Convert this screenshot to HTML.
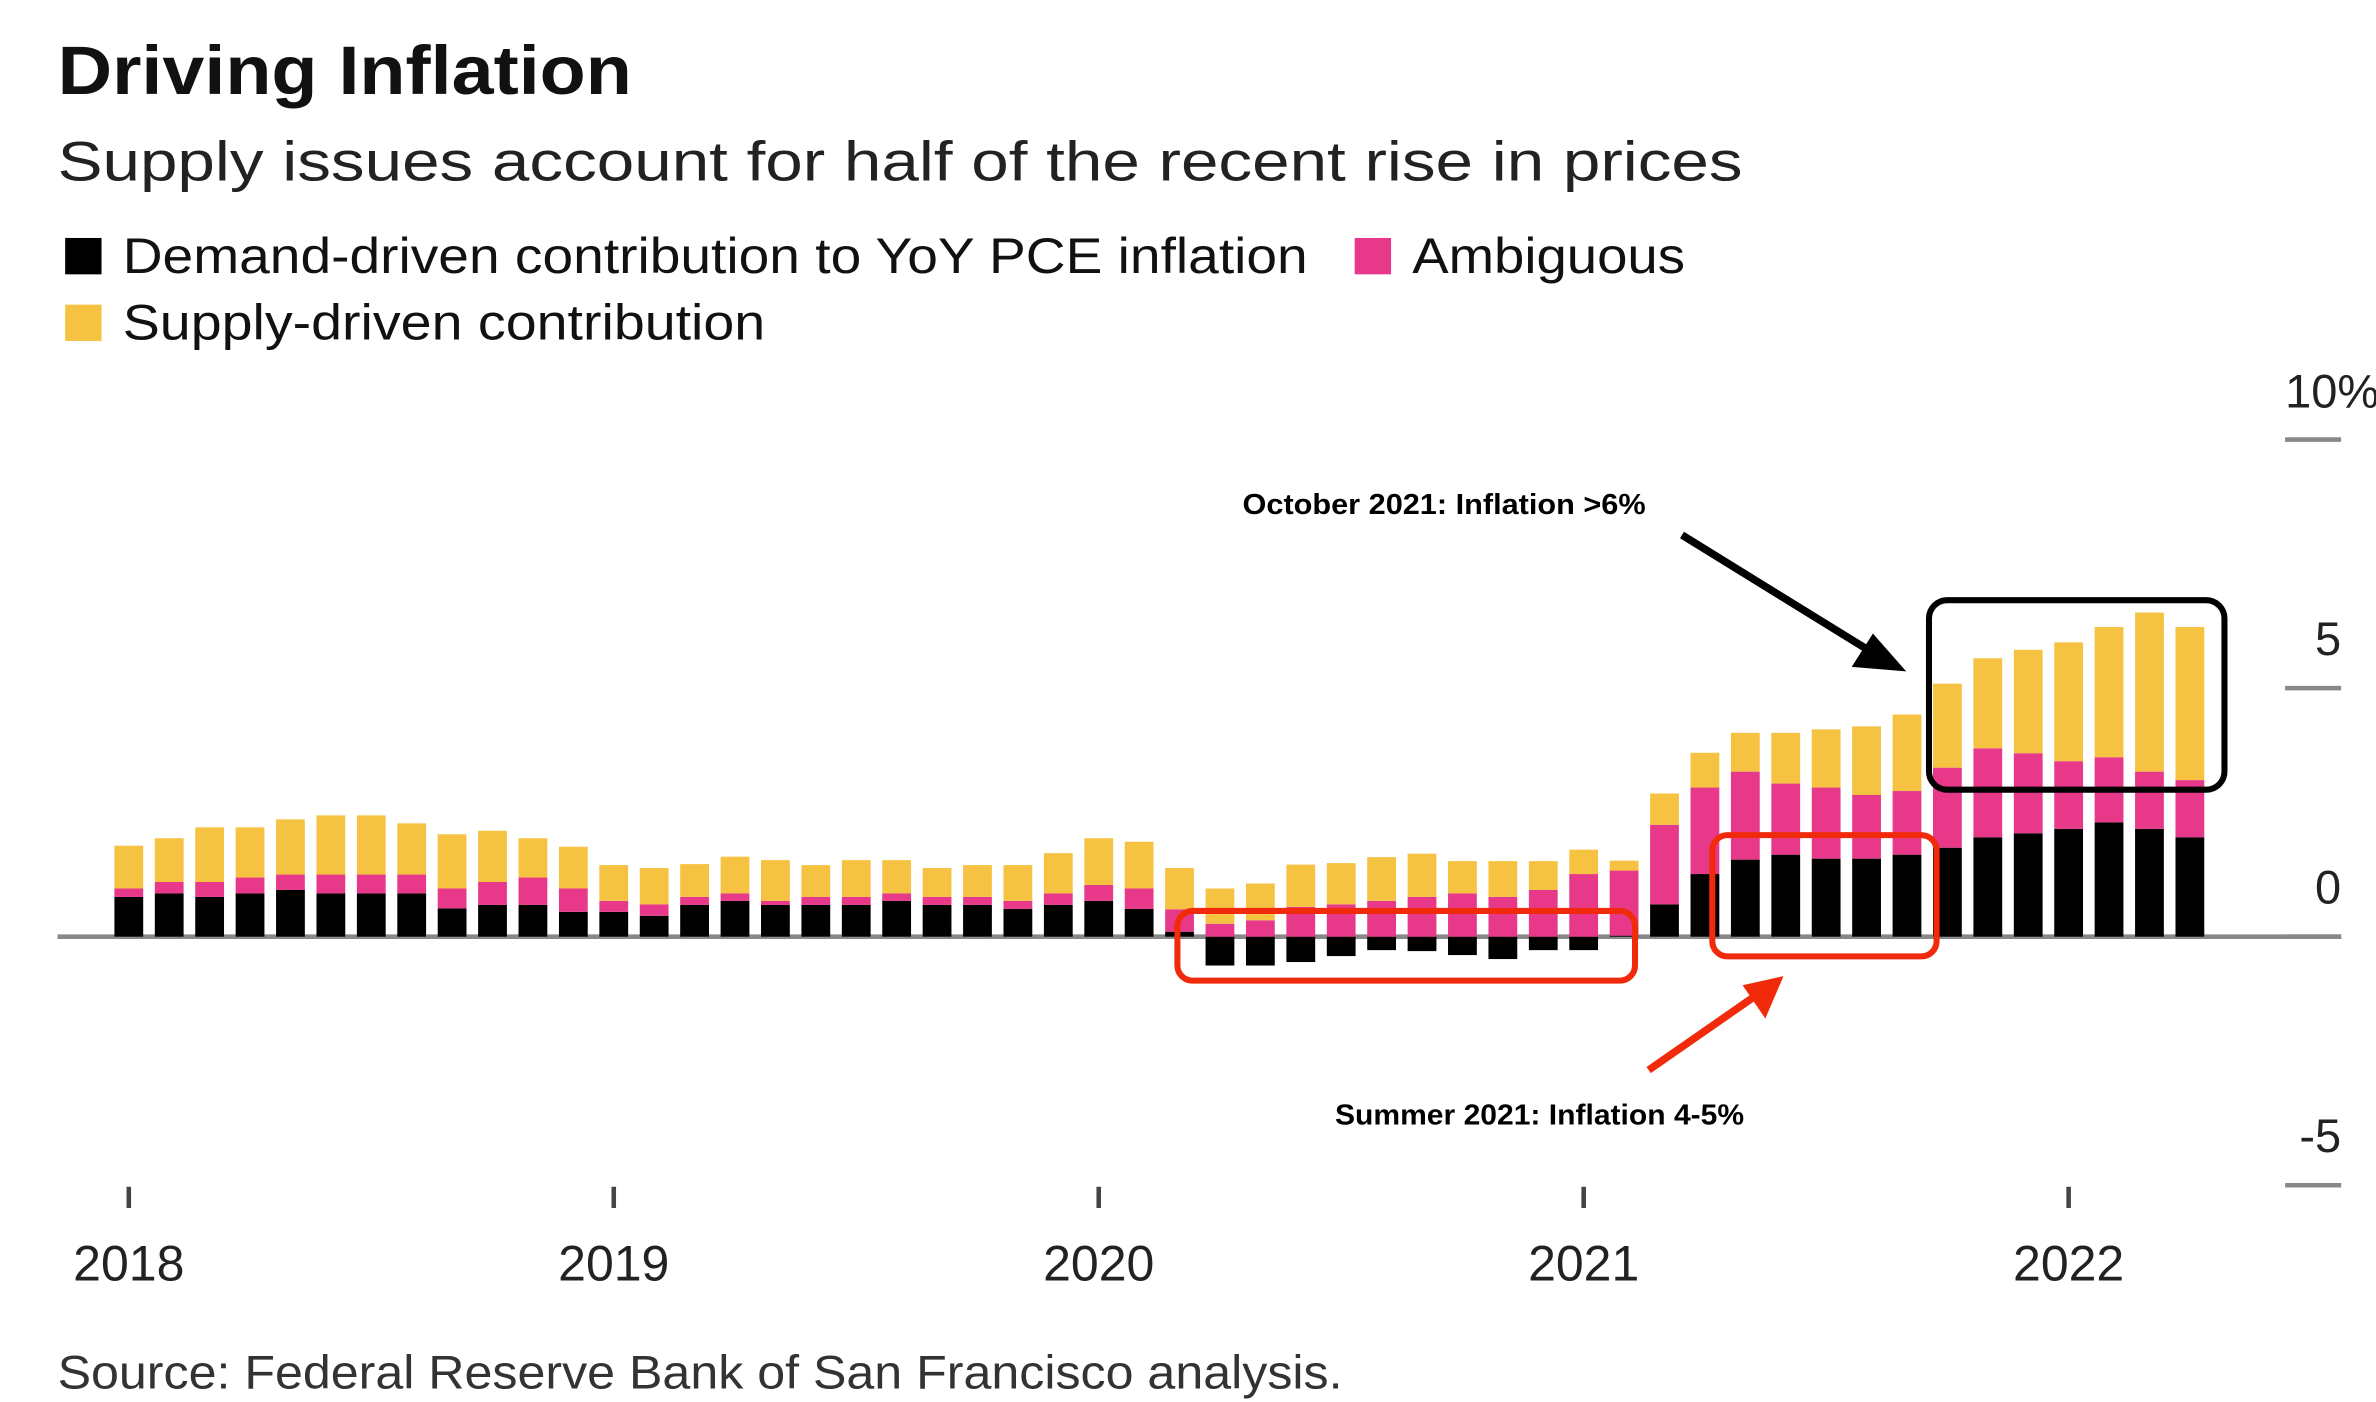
<!DOCTYPE html>
<html><head><meta charset="utf-8"><style>
html,body{margin:0;padding:0;background:#fff;}
svg{display:block;font-family:"Liberation Sans",sans-serif;}
</style></head><body>
<svg id="chart" width="2376" height="1402" viewBox="0 0 1568 925" preserveAspectRatio="none" xmlns="http://www.w3.org/2000/svg">
<rect width="1568" height="925" fill="#fff"/>
<text x="38" y="62" font-size="45" font-weight="bold" fill="#111" textLength="379" lengthAdjust="spacingAndGlyphs">Driving Inflation</text>
<text x="38" y="119" font-size="37" fill="#222" textLength="1112" lengthAdjust="spacingAndGlyphs">Supply issues account for half of the recent rise in prices</text>
<g>
 <rect x="43" y="157" width="24" height="24" fill="#000"/>
 <text x="81" y="180" font-size="33" fill="#111" textLength="782" lengthAdjust="spacingAndGlyphs">Demand-driven contribution to YoY PCE inflation</text>
 <rect x="894" y="157" width="24" height="24" fill="#e8388a"/>
 <text x="932" y="180" font-size="33" fill="#111" textLength="180" lengthAdjust="spacingAndGlyphs">Ambiguous</text>
 <rect x="43" y="201" width="24" height="24" fill="#f5c242"/>
 <text x="81" y="224" font-size="33" fill="#111" textLength="424" lengthAdjust="spacingAndGlyphs">Supply-driven contribution</text>
</g>
<g id="axes"></g>
<g id="bars"></g>
<g>
 <rect x="777" y="601" width="302" height="46" rx="10" fill="none" stroke="#f22a0c" stroke-width="4"/>
 <rect x="1130" y="551" width="148" height="80" rx="10" fill="none" stroke="#f22a0c" stroke-width="4"/>
 <rect x="1273" y="396" width="195" height="125" rx="12" fill="none" stroke="#000" stroke-width="4"/>
 <line x1="1110" y1="353" x2="1238" y2="432" stroke="#000" stroke-width="5"/>
 <polygon points="1258,443 1222,440 1236,418" fill="#000"/>
 <line x1="1088" y1="706" x2="1160" y2="656" stroke="#f22a0c" stroke-width="5"/>
 <polygon points="1177,644 1165,672 1150,650" fill="#f22a0c"/>
 <text x="820" y="339" font-size="19" font-weight="bold" fill="#000" textLength="266" lengthAdjust="spacingAndGlyphs">October 2021: Inflation &gt;6%</text>
 <text x="881" y="742" font-size="19" font-weight="bold" fill="#000" textLength="270" lengthAdjust="spacingAndGlyphs">Summer 2021: Inflation 4-5%</text>
</g>
<text x="38" y="916" font-size="31" fill="#333" textLength="848" lengthAdjust="spacingAndGlyphs">Source: Federal Reserve Bank of San Francisco analysis.</text>
</svg>
<script>
const demand = [0.8,0.87,0.8,0.87,0.94,0.87,0.87,0.87,0.57,0.64,0.64,0.5,
 0.5,0.42,0.64,0.72,0.64,0.64,0.64,0.72,0.64,0.64,0.56,0.64,
 0.72,0.56,0.1,-0.58,-0.58,-0.51,-0.39,-0.27,-0.29,-0.37,-0.45,-0.27,
 -0.27,0.02,0.65,1.26,1.55,1.65,1.57,1.57,1.65,1.79,2.0,2.08,
 2.17,2.3,2.17,2.0];
const ambiguous = [0.17,0.23,0.3,0.32,0.31,0.38,0.38,0.38,0.4,0.46,0.55,0.47,
 0.22,0.23,0.16,0.15,0.08,0.16,0.16,0.15,0.16,0.16,0.16,0.23,
 0.32,0.41,0.45,0.26,0.33,0.6,0.65,0.72,0.8,0.87,0.8,0.94,
 1.26,1.31,1.6,1.74,1.77,1.43,1.43,1.28,1.28,1.61,1.79,1.61,
 1.36,1.31,1.15,1.15];
const supply = [0.86,0.88,1.1,1.01,1.11,1.19,1.19,1.03,1.09,1.03,0.79,0.84,
 0.72,0.73,0.66,0.74,0.82,0.64,0.74,0.67,0.58,0.64,0.72,0.81,
 0.94,0.94,0.83,0.71,0.74,0.85,0.83,0.88,0.87,0.65,0.72,0.58,
 0.49,0.2,0.63,0.7,0.78,1.02,1.17,1.38,1.54,1.69,1.81,2.08,
 2.39,2.62,3.2,3.08];
const yTicks = [10,5,0,-5];
const yTickLabels = ["10%","5","0","-5"];
const xYears = ["2018","2019","2020","2021","2022"];

const NS = "http://www.w3.org/2000/svg";
const y0 = 618, unit = 32.8, x0 = 85, month = 26.67, bw = 19;
function yScale(v){ return y0 - v*unit; }
function xScale(i){ return x0 + i*month; }
function mk(tag, attrs, parent){ const e=document.createElementNS(NS,tag); for(const k in attrs) e.setAttribute(k,attrs[k]); parent.appendChild(e); return e; }
const axes = document.getElementById('axes');
const bars = document.getElementById('bars');

const zl = mk('line',{x1:38,x2:1545,y1:y0,y2:y0,stroke:'#888','stroke-width':3},axes);


yTicks.forEach((t,i)=>{
  const y = yScale(t);
  const l = mk('line',{x1:1508,x2:1545,y1:y,y2:y,stroke:'#888','stroke-width':3},axes);
  
  
  const attrs = t===10 ? {x:1508,y:y-21,'font-size':31,'text-anchor':'start',fill:'#222'} : {x:1545,y:y-22,'font-size':31,'text-anchor':'end',fill:'#222'};
  const tx = mk('text',attrs,axes);
  tx.textContent = yTickLabels[i];
  
  
});
xYears.forEach((yr,i)=>{
  const x = xScale(i*12);
  const l = mk('line',{x1:x,x2:x,y1:783,y2:797,stroke:'#444','stroke-width':3},axes);
  
  
  const tx = mk('text',{x:x,y:845,'font-size':33,'text-anchor':'middle',fill:'#222'},axes);
  tx.textContent = yr;
  
  
});
demand.forEach((d,i)=>{
  const x = xScale(i) - bw/2;
  const a = ambiguous[i], s = supply[i];
  const base = Math.max(d,0);
  const r1 = mk('rect',{x:x,y:Math.min(yScale(d),y0),width:bw,height:Math.abs(d)*unit,fill:'#000'},bars);
  
  
  const r2 = mk('rect',{x:x,y:yScale(base+a),width:bw,height:a*unit,fill:'#e8388a'},bars);
  
  
  const r3 = mk('rect',{x:x,y:yScale(base+a+s),width:bw,height:s*unit,fill:'#f5c242'},bars);
  
  
});
</script>
</body></html>
